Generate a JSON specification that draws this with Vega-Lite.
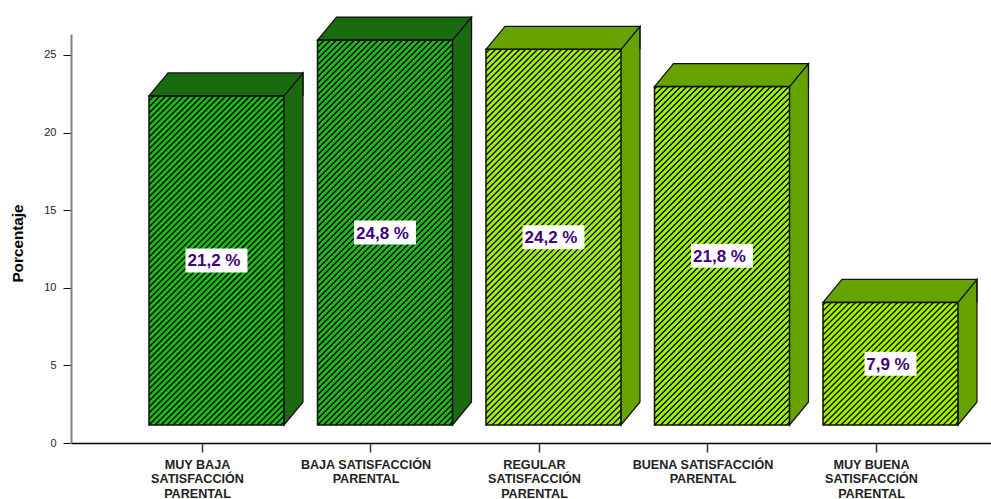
{
  "$schema": "https://vega.github.io/schema/vega-lite/v6.json",
  "width": 920,
  "height": 409,
  "autosize": {"type": "none"},
  "padding": {"left": 71, "top": 34, "right": 0, "bottom": 56},
  "background": "white",
  "config": {"view": {"stroke": null}, "font": "Liberation Sans"},
  "data": {
    "values": [
      {"nivel": "MUY BAJA\nSATISFACCIÓN\nPARENTAL", "pct": 21.2, "etiqueta": "21,2 %"},
      {"nivel": "BAJA SATISFACCIÓN\nPARENTAL", "pct": 24.8, "etiqueta": "24,8 %"},
      {"nivel": "REGULAR\nSATISFACCIÓN\nPARENTAL", "pct": 24.2, "etiqueta": "24,2 %"},
      {"nivel": "BUENA SATISFACCIÓN\nPARENTAL", "pct": 21.8, "etiqueta": "21,8 %"},
      {"nivel": "MUY BUENA\nSATISFACCIÓN\nPARENTAL", "pct": 7.9, "etiqueta": "7,9 %"}
    ]
  },
  "encoding": {
    "x": {
      "field": "nivel",
      "type": "nominal",
      "sort": null,
      "scale": {"type": "point", "padding": 0.73, "align": 0.5325},
      "axis": {
        "title": null,
        "labelAngle": 0,
        "labelExpr": "split(datum.label, '\\n')",
        "labelFontSize": 12.6,
        "labelFontWeight": "bold",
        "labelColor": "#222222",
        "labelLineHeight": 14.5,
        "labelPadding": 6,
        "labelOffset": -5,
        "labelAlign": "center",
        "labelBaseline": "top",
        "labelOverlap": false,
        "labelLimit": 0,
        "tickSize": 9,
        "tickColor": "#333333",
        "tickWidth": 1.5,
        "domainColor": "#000000",
        "domainWidth": 1.5,
        "grid": false
      }
    }
  },
  "layer": [
    {
      "encoding": {
        "y": {
          "field": "pct",
          "type": "quantitative",
          "scale": {"domain": [0, 26.35], "nice": false, "zero": true},
          "axis": {
            "title": "Porcentaje",
            "titleFontSize": 15.3,
            "titleFontWeight": "bold",
            "titleColor": "#000000",
            "titleX": -46,
            "titleY": 209,
            "values": [0, 5, 10, 15, 20, 25],
            "labelFontSize": 11,
            "labelColor": "#222222",
            "labelPadding": 7,
            "tickSize": 8,
            "tickColor": "#111111",
            "tickWidth": 1,
            "domainColor": "#808080",
            "domainWidth": 2,
            "grid": false
          }
        }
      },
      "layer": [
        {
          "mark": {"type": "bar", "size": 135, "xOffset": 14.5, "yOffset": -18, "y2Offset": -18},
          "encoding": {
            "y2": {"datum": 0},
            "fill": {"condition": {"test": "indexof(datum.nivel, 'BAJA') >= 0", "value": "#22b51f"}, "value": "#a0f400"}
          }
        },
        {
          "mark": {
            "type": "point",
            "size": 4,
            "filled": false,
            "opacity": 1,
            "stroke": "#000000",
            "strokeWidth": 1.3,
            "xOffset": 14.5,
            "yOffset": -18,
            "shape": "M-61.5 0l129 -129M-55.5 0l123 -123M-49.5 0l117 -117M-43.5 0l111 -111M-37.5 0l105 -105M-31.5 0l99 -99M-25.5 0l93 -93M-19.5 0l87 -87M-13.5 0l81 -81M-7.5 0l75 -75M-1.5 0l69 -69M4.5 0l63 -63M10.5 0l57 -57M16.5 0l51 -51M22.5 0l45 -45M28.5 0l39 -39M34.5 0l33 -33M40.5 0l27 -27M46.5 0l21 -21M52.5 0l15 -15M58.5 0l9 -9M64.5 0l3 -3M-67.5 0l135 -135M-67.5 -6l135 -135M-67.5 -12l135 -135M-67.5 -18l135 -135M-67.5 -24l135 -135M-67.5 -30l135 -135M-67.5 -36l135 -135M-67.5 -42l135 -135M-67.5 -48l135 -135M-67.5 -54l135 -135M-67.5 -60l135 -135M-67.5 -66l135 -135M-67.5 -72l135 -135M-67.5 -78l135 -135M-67.5 -84l135 -135M-67.5 -90l135 -135M-67.5 -96l135 -135M-67.5 -102l135 -135M-67.5 -108l135 -135M-67.5 -114l135 -135M-67.5 -120l135 -135M-67.5 -126l135 -135M-67.5 -132l135 -135M-67.5 -138l135 -135M-67.5 -144l135 -135M-67.5 -150l135 -135M-67.5 -156l135 -135M-67.5 -162l135 -135M-67.5 -168l135 -135M-67.5 -174l135 -135M-67.5 -180l135 -135M-67.5 -186l135 -135M-67.5 -192l135 -135M-67.5 -198l135 -135M-67.5 -204l135 -135M-67.5 -210l135 -135M-67.5 -216l135 -135M-67.5 -222l135 -135M-67.5 -228l135 -135M-67.5 -234l135 -135M-67.5 -240l135 -135M-67.5 -246l135 -135M-67.5 -252l135 -135M-67.5 -258l129 -129M-67.5 -264l123 -123M-67.5 -270l117 -117M-67.5 -276l111 -111M-67.5 -282l105 -105M-67.5 -288l99 -99M-67.5 -294l93 -93M-67.5 -300l87 -87M-67.5 -306l81 -81M-67.5 -312l75 -75M-67.5 -318l69 -69M-67.5 -324l63 -63M-67.5 -330l57 -57M-67.5 -336l51 -51M-67.5 -342l45 -45M-67.5 -348l39 -39M-67.5 -354l33 -33M-67.5 -360l27 -27M-67.5 -366l21 -21M-67.5 -372l15 -15M-67.5 -378l9 -9M-67.5 -384l3 -3"
          },
          "encoding": {"y": {"datum": 0, "type": "quantitative"}}
        },
        {
          "mark": {"type": "bar", "size": 138, "xOffset": 14.5, "yOffset": -18, "fill": "#ffffff"},
          "encoding": {"y2": {"datum": 26.35}}
        },
        {
          "mark": {"type": "bar", "size": 19, "xOffset": 91.5, "yOffset": -19, "y2Offset": -40},
          "encoding": {
            "y2": {"datum": 0},
            "fill": {"condition": {"test": "indexof(datum.nivel, 'BAJA') >= 0", "value": "#1a6b0f"}, "value": "#66a300"}
          }
        },
        {
          "mark": {
            "type": "point",
            "size": 4,
            "filled": true,
            "opacity": 1,
            "stroke": "#111111",
            "strokeWidth": 1.2,
            "xOffset": 82,
            "yOffset": -18,
            "shape": "M0 0L19 -23L19 0"
          },
          "encoding": {
            "fill": {"condition": {"test": "indexof(datum.nivel, 'BAJA') >= 0", "value": "#1a6b0f"}, "value": "#66a300"}
          }
        },
        {
          "mark": {
            "type": "point",
            "size": 4,
            "filled": true,
            "opacity": 1,
            "stroke": "#111111",
            "strokeWidth": 1.2,
            "xOffset": 82,
            "yOffset": -18,
            "shape": "M0 -23L0 0L19 -23"
          },
          "encoding": {
            "y": {"datum": 0, "type": "quantitative"},
            "fill": {"condition": {"test": "indexof(datum.nivel, 'BAJA') >= 0", "value": "#1a6b0f"}, "value": "#66a300"}
          }
        },
        {
          "mark": {"type": "rule", "color": "#111111", "strokeWidth": 1.2, "xOffset": 101, "yOffset": -41, "y2Offset": -41},
          "encoding": {"y2": {"datum": 0}}
        },
        {
          "mark": {
            "type": "point",
            "size": 4,
            "filled": true,
            "opacity": 1,
            "stroke": "#111111",
            "strokeWidth": 1.2,
            "xOffset": 14.5,
            "yOffset": -18,
            "shape": "M-67.5 0L-48.5 -23L86.5 -23L67.5 0Z"
          },
          "encoding": {
            "fill": {"condition": {"test": "indexof(datum.nivel, 'BAJA') >= 0", "value": "#1a6b0f"}, "value": "#66a300"}
          }
        },
        {
          "mark": {
            "type": "bar",
            "size": 135,
            "xOffset": 14.5,
            "yOffset": -18,
            "y2Offset": -18,
            "fillOpacity": 0,
            "stroke": "#111111",
            "strokeWidth": 1.5
          },
          "encoding": {"y2": {"datum": 0}}
        }
      ]
    },
    {
      "encoding": {
        "y": {
          "field": "pct",
          "type": "quantitative",
          "scale": {"domain": [0, 52.7], "nice": false, "zero": true},
          "axis": null
        }
      },
      "layer": [
        {
          "mark": {
            "type": "point",
            "size": 4,
            "filled": true,
            "opacity": 1,
            "fill": "#ffffff",
            "strokeWidth": 0,
            "xOffset": 14.5,
            "yOffset": -18
          },
          "encoding": {
            "shape": {
              "condition": {"test": "datum.pct < 10", "value": "M-26 -12H26V12H-26Z"},
              "value": "M-31 -12H31V12H-31Z"
            }
          }
        },
        {
          "mark": {
            "type": "text",
            "font": "Liberation Sans",
            "fontSize": 17,
            "fontWeight": "bold",
            "color": "#400080",
            "align": "center",
            "baseline": "middle",
            "xOffset": 12,
            "yOffset": -17
          },
          "encoding": {"text": {"field": "etiqueta"}}
        }
      ]
    }
  ],
  "resolve": {"scale": {"y": "independent"}}
}
